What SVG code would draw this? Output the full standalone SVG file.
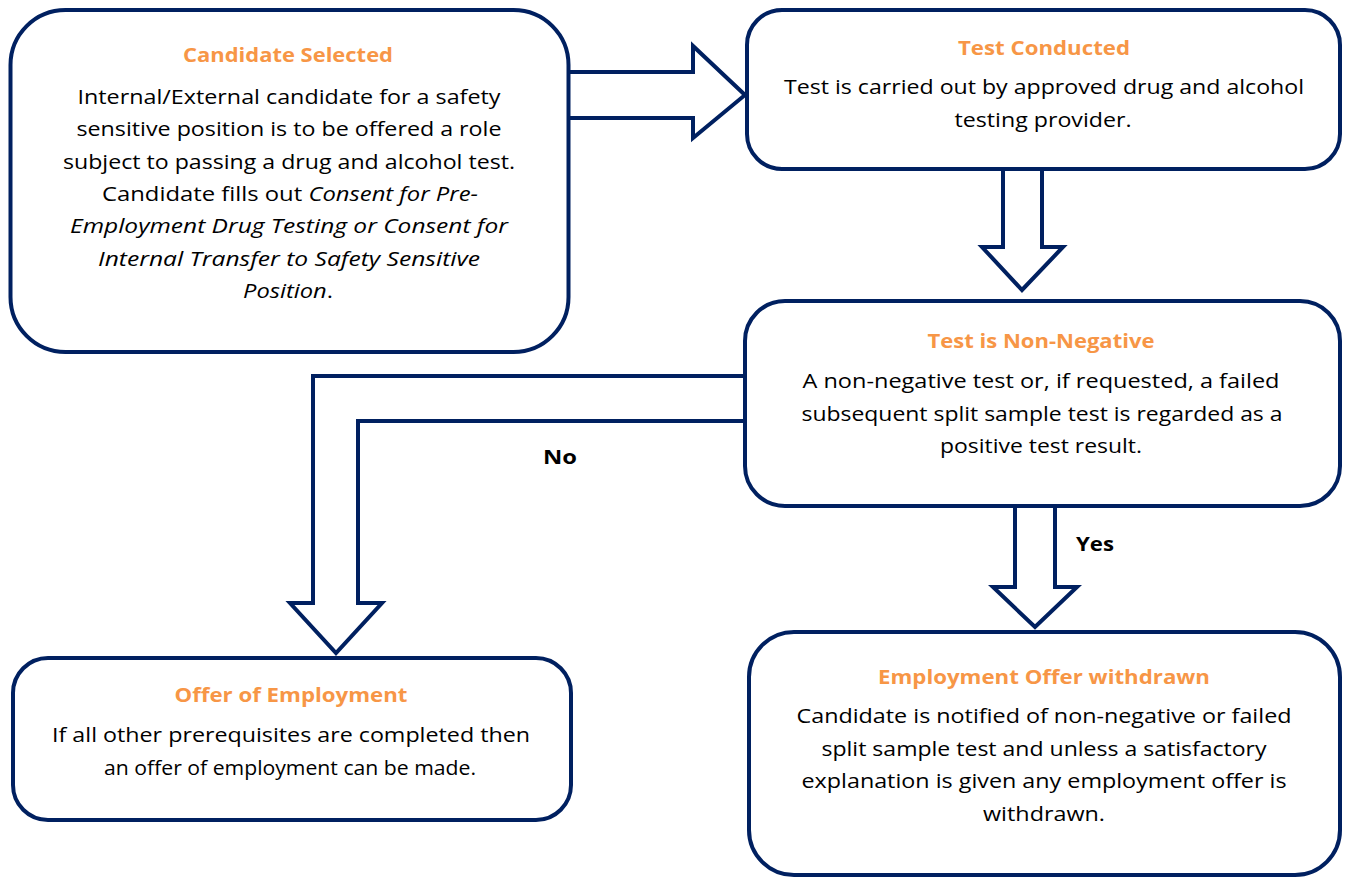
<svg xmlns="http://www.w3.org/2000/svg" width="1346" height="879" viewBox="0 0 1346 879">
<style>
.box{fill:#fff;stroke:#002060;stroke-width:4}
.arr{fill:#fff;stroke:#002060;stroke-width:4;stroke-linejoin:miter}
.t{font-family:"Open Sans","Liberation Sans",sans-serif;font-size:20px;font-weight:bold;fill:#F79646;text-anchor:middle}
.b{font-family:"Open Sans","Liberation Sans",sans-serif;font-size:20px;fill:#000;text-anchor:middle}
.l{font-family:"Open Sans","Liberation Sans",sans-serif;font-size:20px;font-weight:bold;fill:#000;text-anchor:middle}
.i{font-style:italic}
</style>
<rect width="1346" height="879" fill="#fff"/>
<g id="connectors">
<polygon class="arr" points="560,72 693,72 693,46 745,95 693,138 693,118 560,118"/>
<polygon class="arr" points="1003,160 1003,247 982,247 1022,290 1063,247 1042,247 1042,160"/>
<polygon class="arr" points="755,376 313,376 313,603 290,603 336,653 382,603 358,603 358,421 755,421"/>
<polygon class="arr" points="1015,495 1015,587 993,587 1035,627 1077,587 1055,587 1055,495"/>
<text class="l" x="560" y="464" textLength="34" lengthAdjust="spacingAndGlyphs">No</text>
<text class="l" x="1095" y="551" textLength="38" lengthAdjust="spacingAndGlyphs">Yes</text>
</g>
<g id="candidate-selected">
<rect class="box" x="10.5" y="10" width="558" height="342" rx="55"/>
<text class="t" x="288" y="62" textLength="210" lengthAdjust="spacingAndGlyphs">Candidate Selected</text>
<text class="b" x="289" y="104" textLength="423" lengthAdjust="spacingAndGlyphs">Internal/External candidate for a safety</text>
<text class="b" x="289" y="136" textLength="425" lengthAdjust="spacingAndGlyphs">sensitive position is to be offered a role</text>
<text class="b" x="289" y="169" textLength="452" lengthAdjust="spacingAndGlyphs">subject to passing a drug and alcohol test.</text>
<text class="b" x="290" y="201" textLength="376" lengthAdjust="spacingAndGlyphs">Candidate fills out <tspan class="i">Consent for Pre-</tspan></text>
<text class="b i" x="289" y="233" textLength="438" lengthAdjust="spacingAndGlyphs">Employment Drug Testing or Consent for</text>
<text class="b i" x="289" y="266" textLength="382" lengthAdjust="spacingAndGlyphs">Internal Transfer to Safety Sensitive</text>
<text class="b" x="288" y="298" textLength="90" lengthAdjust="spacingAndGlyphs"><tspan class="i">Position</tspan>.</text>
</g>
<g id="test-conducted">
<rect class="box" x="747" y="10" width="593" height="159" rx="35"/>
<text class="t" x="1044" y="55" textLength="172" lengthAdjust="spacingAndGlyphs">Test Conducted</text>
<text class="b" x="1044" y="94" textLength="520" lengthAdjust="spacingAndGlyphs">Test is carried out by approved drug and alcohol</text>
<text class="b" x="1043" y="127" textLength="177" lengthAdjust="spacingAndGlyphs">testing provider.</text>
</g>
<g id="test-non-negative">
<rect class="box" x="745" y="301" width="595" height="205" rx="40"/>
<text class="t" x="1041" y="348" textLength="227" lengthAdjust="spacingAndGlyphs">Test is Non-Negative</text>
<text class="b" x="1041" y="388" textLength="477" lengthAdjust="spacingAndGlyphs">A non-negative test or, if requested, a failed</text>
<text class="b" x="1042" y="421" textLength="481" lengthAdjust="spacingAndGlyphs">subsequent split sample test is regarded as a</text>
<text class="b" x="1041" y="453" textLength="202" lengthAdjust="spacingAndGlyphs">positive test result.</text>
</g>
<g id="offer-of-employment">
<rect class="box" x="13" y="658" width="558" height="162" rx="35"/>
<text class="t" x="291" y="702" textLength="233" lengthAdjust="spacingAndGlyphs">Offer of Employment</text>
<text class="b" x="291" y="742" textLength="478" lengthAdjust="spacingAndGlyphs">If all other prerequisites are completed then</text>
<text class="b" x="290" y="775" textLength="372" lengthAdjust="spacingAndGlyphs">an offer of employment can be made.</text>
</g>
<g id="offer-withdrawn">
<rect class="box" x="749" y="632" width="591" height="243" rx="45"/>
<text class="t" x="1044" y="684" textLength="332" lengthAdjust="spacingAndGlyphs">Employment Offer withdrawn</text>
<text class="b" x="1044" y="723" textLength="495" lengthAdjust="spacingAndGlyphs">Candidate is notified of non-negative or failed</text>
<text class="b" x="1044" y="756" textLength="445" lengthAdjust="spacingAndGlyphs">split sample test and unless a satisfactory</text>
<text class="b" x="1044" y="788" textLength="485" lengthAdjust="spacingAndGlyphs">explanation is given any employment offer is</text>
<text class="b" x="1044" y="821" textLength="122" lengthAdjust="spacingAndGlyphs">withdrawn.</text>
</g>
</svg>
